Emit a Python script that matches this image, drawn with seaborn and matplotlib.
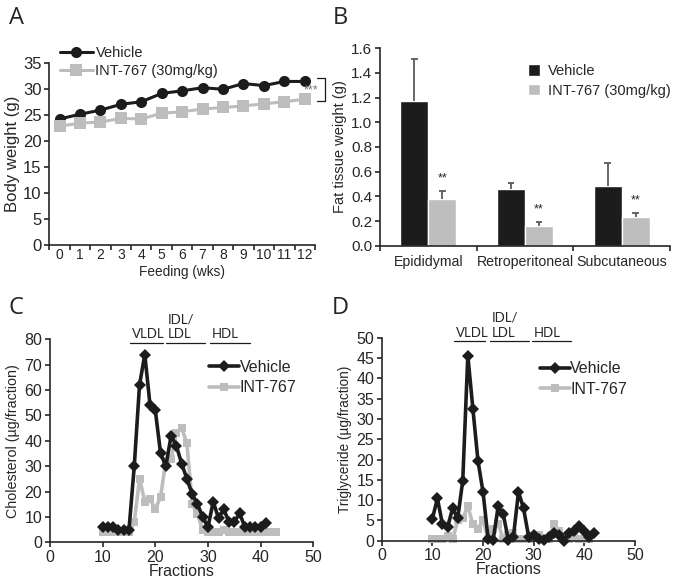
import numpy as np
import pandas as pd
import seaborn as sns
import matplotlib.pyplot as plt

# -------------------- data -------------------- #

weeks = list(range(13))
bw_vehicle = [24.2, 25.1, 25.9, 27.0, 27.5, 29.1, 29.6, 30.2, 29.9, 31.0, 30.6, 31.4, 31.4]
bw_int767 = [22.8, 23.4, 23.6, 24.3, 24.2, 25.3, 25.6, 26.1, 26.4, 26.7, 27.1, 27.5, 28.0]

fat_depots = ["Epididymal", "Retroperitoneal", "Subcutaneous"]
fat_vehicle = [1.175, 0.46, 0.485]
fat_vehicle_err = [0.335, 0.046, 0.185]
fat_int767 = [0.38, 0.16, 0.23]
fat_int767_err = [0.063, 0.035, 0.037]

chol_fr_vehicle = list(range(10, 42))
chol_vehicle = [6, 6, 6, 5, 5, 5, 30, 62, 74, 54, 52, 35, 30, 42, 38, 31,
                25, 19, 15, 10, 6, 16, 9.5, 13, 8, 8, 11.5, 6, 6, 6, 6, 7.5]
chol_fr_int767 = list(range(10, 44))
chol_int767 = [4, 4, 4, 4, 4, 4, 8, 25, 16, 17, 13, 18, 32, 33, 43, 45,
               39, 15, 11, 5, 4, 4, 4, 5, 4, 4, 4, 4, 4, 4, 4, 4, 4, 4]

tg_fr_vehicle = list(range(10, 43))
tg_vehicle = [5.4, 10.4, 4, 3.3, 8, 5.5, 14.8, 45.6, 32.5, 19.7, 12, 0.5, 0.2,
              8.5, 6.5, 0.2, 1, 12, 8, 1, 1.5, 0.3, 0.2, 1, 2, 1.5, 0, 2, 2.5,
              3.5, 2.5, 1, 2]
tg_fr_int767 = list(range(10, 42))
tg_int767 = [0.5, 0.5, 0.3, 1.2, 0.3, 5, 5.5, 8.5, 4, 3, 5, 0.5, 3, 4, 0.5,
             1.5, 2, 0.3, 0.3, 0.5, 1, 1.5, 0.5, 0.5, 4, 2.5, 1, 0.5, 1, 0.3,
             0.3, 0.3]

lipo_labels = ["VLDL", "IDL/\nLDL", "HDL"]

BLACK = "#1c1c1c"
GREY = "#bdbdbd"

# -------------------- style -------------------- #

sns.set_style("ticks")
plt.rcParams["font.family"] = ["Liberation Sans", "DejaVu Sans"]
plt.rcParams["axes.linewidth"] = 1.2
plt.rcParams["xtick.major.width"] = 1.2
plt.rcParams["ytick.major.width"] = 1.2
plt.rcParams["xtick.minor.width"] = 1.2
plt.rcParams["xtick.major.size"] = 3.5
plt.rcParams["ytick.major.size"] = 3.5
plt.rcParams["xtick.minor.size"] = 3.5
plt.rcParams["font.size"] = 10

fig = plt.figure(figsize=(6.73, 5.84), dpi=100)


def px_axes(left, top, right, bottom):
    W, H = 673, 584
    return fig.add_axes([left / W, 1 - bottom / H, (right - left) / W, (bottom - top) / H])


def clean(ax, xsize, ysize):
    sns.despine(ax=ax)
    ax.tick_params(axis="x", labelsize=xsize, pad=2)
    ax.tick_params(axis="y", labelsize=ysize, pad=2)


# -------------------- A: body weight -------------------- #

axA = px_axes(49.3, 62.7, 315, 245)
dfA = pd.DataFrame({"week": weeks * 2,
                    "weight": bw_vehicle + bw_int767,
                    "group": ["Vehicle"] * 13 + ["INT-767 (30mg/kg)"] * 13})
sns.lineplot(data=dfA[dfA.group == "Vehicle"], x="week", y="weight", color=BLACK,
             marker="o", markersize=8, markeredgewidth=0, lw=2.2, ax=axA,
             label="Vehicle")
sns.lineplot(data=dfA[dfA.group != "Vehicle"], x="week", y="weight", color=GREY,
             marker="s", markersize=8, markeredgewidth=0, lw=2.2, ax=axA,
             label="INT-767 (30mg/kg)")
axA.set_xlim(-0.5, 12.5)
axA.set_ylim(0, 35)
axA.set_yticks(range(0, 36, 5))
axA.set_xticks(weeks)
axA.set_xticks(np.arange(-0.5, 13, 1), minor=True)
axA.tick_params(axis="x", which="major", length=0)
axA.set_xlabel("Feeding (wks)", fontsize=9.8, labelpad=2)
axA.set_ylabel("Body weight (g)", fontsize=12, labelpad=2)
clean(axA, 10, 12)
axA.legend(loc="upper left", bbox_to_anchor=(0.02, 1.125), frameon=False,
           fontsize=10.5, handlelength=2.2, handletextpad=0.2, labelspacing=0.3,
           borderaxespad=0)
# significance bracket
axA.plot([12.6, 13.0, 13.0, 12.6], [32.0, 32.0, 27.7, 27.7], color=BLACK, lw=0.9,
         clip_on=False)
axA.text(12.3, 29.6, "***", color="#777777", fontsize=9, ha="center", va="center",
         clip_on=False)

# -------------------- B: fat tissue -------------------- #

axB = px_axes(380, 48.3, 670, 245.7)
dfB = pd.DataFrame({"depot": fat_depots * 2,
                    "weight": fat_vehicle + fat_int767,
                    "group": ["Vehicle"] * 3 + ["INT-767 (30mg/kg)"] * 3})
sns.barplot(data=dfB, x="depot", y="weight", hue="group",
            palette=[BLACK, "#bebebe"], errorbar=None, width=0.58, gap=0,
            saturation=1, ax=axB)
for i, (cont, err) in enumerate(zip(axB.containers, [fat_vehicle_err, fat_int767_err])):
    xs = np.array([b.get_x() + b.get_width() / 2 for b in cont])
    ys = np.array([b.get_height() for b in cont])
    tops = ys + np.array(err)
    # upper half of the error bar only
    axB.vlines(xs, ys, tops, color="#5a5a5a", lw=1.3, zorder=1)
    axB.hlines(tops, xs - 0.035, xs + 0.035, color="#5a5a5a", lw=1.3, zorder=1)
    if i == 1:
        for x, t in zip(xs, tops):
            axB.text(x, t + 0.1, "**", ha="center", va="center", fontsize=9)
axB.set_xlim(-0.5, 2.5)
axB.set_ylim(0, 1.6)
axB.set_yticks(np.arange(0, 1.61, 0.2))
axB.yaxis.set_major_formatter(plt.FormatStrFormatter("%.1f"))
axB.set_xticks(np.arange(-0.5, 3, 1), minor=True)
axB.tick_params(axis="x", which="major", length=0)
axB.set_xlabel("")
axB.set_ylabel("Fat tissue weight (g)", fontsize=10.5, labelpad=3)
clean(axB, 10.2, 11)
axB.tick_params(axis="x", which="major", pad=7)
sns.move_legend(axB, "upper left", bbox_to_anchor=(0.49, 0.95), frameon=False,
                title=None, fontsize=10.5, handlelength=0.8, handleheight=0.8,
                handletextpad=0.6, labelspacing=0.4, borderaxespad=0)

# -------------------- C & D: lipoprotein profiles -------------------- #


def fraction_panel(ax, fr_v, val_v, fr_i, val_i, ymax, ystep, ylabel, ylsize,
                   bars, bar_y, leg_anchor):
    dv = pd.DataFrame({"fraction": fr_v, "value": val_v})
    di = pd.DataFrame({"fraction": fr_i, "value": val_i})
    sns.lineplot(data=dv, x="fraction", y="value", color=BLACK, marker="D",
                 markersize=6, markeredgewidth=0, lw=2.6, ax=ax, label="Vehicle",
                 clip_on=False, zorder=3)
    sns.lineplot(data=di, x="fraction", y="value", color=GREY, marker="s",
                 markersize=5.5, markeredgewidth=0, lw=2.6, ax=ax, label="INT-767",
                 clip_on=False, zorder=2)
    ax.set_xlim(0, 50)
    ax.set_ylim(0, ymax)
    ax.set_xticks(range(0, 51, 10))
    ax.set_yticks(np.arange(0, ymax + 0.1, ystep))
    ax.set_xlabel("Fractions", fontsize=11.5, labelpad=-1)
    ax.set_ylabel(ylabel, fontsize=ylsize, labelpad=3)
    clean(ax, 11.5, 11.5)
    ax.legend(loc="upper left", bbox_to_anchor=leg_anchor, frameon=False,
              fontsize=11.5, handlelength=1.9, handletextpad=0.0,
              labelspacing=0.35, borderaxespad=0)
    for (x0, x1), lab in zip(bars, lipo_labels):
        ax.plot([x0, x1], [bar_y, bar_y], color=BLACK, lw=0.9, clip_on=False)
        ax.text(x0 + 0.4, bar_y + ymax * 0.012, lab, ha="left", va="bottom",
                fontsize=9.5, family=["Lato", "DejaVu Sans"], linespacing=1.3)


axC = px_axes(50, 339.3, 313.3, 542.3)
fraction_panel(axC, chol_fr_vehicle, chol_vehicle, chol_fr_int767, chol_int767,
               80, 10, "Cholesterol (µg/fraction)", 10.3,
               [(15.2, 21.4), (22.0, 29.4), (30.4, 38.0)], 78.7, (0.58, 0.93))

axD = px_axes(381.7, 337.7, 635, 540.7)
fraction_panel(axD, tg_fr_vehicle, tg_vehicle, tg_fr_int767, tg_int767,
               50, 5, "Triglyceride (µg/fraction)", 9.8,
               [(14.2, 20.3), (21.3, 29.0), (29.7, 37.4)], 49.2, (0.6, 0.915))

# -------------------- panel letters -------------------- #

for x, y, letter in [(9, 24, "A"), (333, 24, "B"), (8, 314, "C"), (332, 314, "D")]:
    fig.text(x / 673, 1 - y / 584, letter, fontsize=17,
             family=["Open Sans", "DejaVu Sans"], va="baseline")

fig.savefig("out.png", dpi=100)
